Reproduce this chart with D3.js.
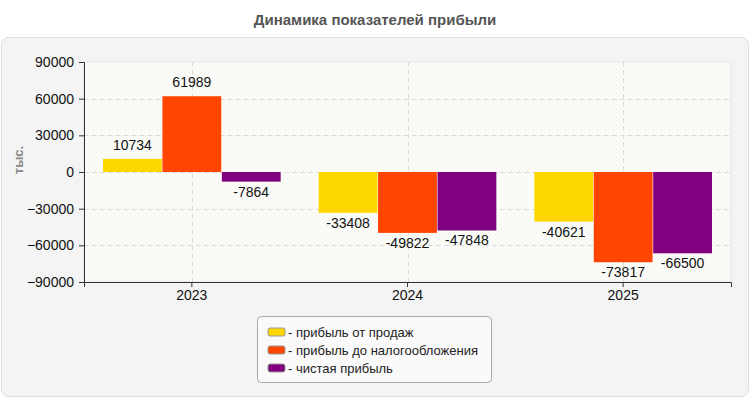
<!DOCTYPE html>
<html lang="ru">
<head>
    <meta charset="UTF-8">
    <title>Динамика показателей прибыли</title>
    <script src="https://d3js.org/d3.v7.min.js"></script>
    <style>
        body { margin: 0; background: #fff; font-family: "Liberation Sans", Arial, sans-serif; }
    </style>
</head>
<body>
<div id="chart"></div>
<script>
    // data
    var years = ["2023", "2024", "2025"];
    var seriesNames = ["прибыль от продаж", "прибыль до налогообложения", "чистая прибыль"];
    var salesProfit = [10734, -33408, -40621];
    var preTaxProfit = [61989, -49822, -73817];
    var netProfit = [-7864, -47848, -66500];
    var yTicks = [-90000, -60000, -30000, 0, 30000, 60000, 90000];
    var colors = ["#FFD700", "#FF4500", "#800080"];

    var seriesValues = [salesProfit, preTaxProfit, netProfit];

    var W = 750, H = 400;
    var svg = d3.select("#chart").append("svg")
        .attr("width", W)
        .attr("height", H);

    // hatch pattern for plot area
    var defs = svg.append("defs");
    var pat = defs.append("pattern")
        .attr("id", "hatch")
        .attr("patternUnits", "userSpaceOnUse")
        .attr("width", 4).attr("height", 4);
    pat.append("rect").attr("width", 4).attr("height", 4).attr("fill", "#fdfdf9");
    pat.append("path")
        .attr("d", "M-1,1 l2,-2 M0,4 l4,-4 M3,5 l2,-2")
        .attr("stroke", "#ececec")
        .attr("stroke-width", 0.7);

    // title
    svg.append("text")
        .attr("x", W / 2)
        .attr("y", 25)
        .attr("text-anchor", "middle")
        .style("font-size", "15px")
        .style("font-weight", "bold")
        .attr("fill", "#555")
        .text("Динамика показателей прибыли");

    // outer panel
    svg.append("rect")
        .attr("x", 1.5).attr("y", 37.5)
        .attr("width", 747).attr("height", 359)
        .attr("rx", 7)
        .attr("fill", "#f4f4f4")
        .attr("stroke", "#dedede");

    var margin = { left: 84, top: 62, right: 19, bottom: 118 };
    var width = W - margin.left - margin.right;
    var height = H - margin.top - margin.bottom;

    var g = svg.append("g")
        .attr("transform", "translate(" + margin.left + "," + margin.top + ")");

    var x = d3.scaleBand().domain(years).range([0, width]);
    var x1 = d3.scaleBand().domain(seriesNames).range([19, x.bandwidth() - 19]).paddingInner(0.01);
    var y = d3.scaleLinear().domain([-90000, 90000]).range([height, 0]);

    g.append("rect")
        .attr("width", width).attr("height", height)
        .attr("fill", "url(#hatch)")
        .attr("stroke", "#e2e2e2");

    // grid
    g.selectAll(".hgrid")
        .data(yTicks.filter(function(d) { return d > -90000 && d < 90000; }))
        .enter().append("line")
        .attr("x1", 0).attr("x2", width)
        .attr("y1", function(d) { return Math.round(y(d)) + 0.5; })
        .attr("y2", function(d) { return Math.round(y(d)) + 0.5; })
        .attr("stroke", "#dcdcdc")
        .attr("stroke-dasharray", "5,3");

    g.selectAll(".vgrid")
        .data(years)
        .enter().append("line")
        .attr("x1", function(d) { return Math.round(x(d) + x.bandwidth() / 2) + 0.5; })
        .attr("x2", function(d) { return Math.round(x(d) + x.bandwidth() / 2) + 0.5; })
        .attr("y1", 0).attr("y2", height)
        .attr("stroke", "#dcdcdc")
        .attr("stroke-dasharray", "5,3");

    // bars
    var bars = [];
    years.forEach(function(yr, i) {
        seriesNames.forEach(function(s, j) {
            bars.push({ year: yr, series: s, value: seriesValues[j][i], color: colors[j] });
        });
    });

    g.selectAll(".bar")
        .data(bars)
        .enter().append("rect")
        .attr("class", "bar")
        .attr("x", function(d) { return x(d.year) + x1(d.series); })
        .attr("width", x1.bandwidth())
        .attr("y", function(d) { return y(Math.max(0, d.value)); })
        .attr("height", function(d) { return Math.abs(y(d.value) - y(0)); })
        .attr("fill", function(d) { return d.color; });

    g.selectAll(".lbl")
        .data(bars)
        .enter().append("text")
        .attr("x", function(d) { return x(d.year) + x1(d.series) + x1.bandwidth() / 2; })
        .attr("y", function(d) { return d.value >= 0 ? y(d.value) - 9 : y(d.value) + 15; })
        .attr("text-anchor", "middle")
        .style("font-size", "14px")
        .attr("fill", "#111")
        .text(function(d) { return d.value; });

    // axes
    var yAxis = g.append("g")
        .call(d3.axisLeft(y).tickValues(yTicks).tickSize(5).tickFormat(d3.format("d")));
    yAxis.selectAll("text").style("font-size", "14px").attr("fill", "#111").attr("dx", "-2");
    yAxis.select(".domain").attr("stroke", "#333");
    yAxis.selectAll(".tick line").attr("stroke", "#333");

    var xAxis = g.append("g")
        .attr("transform", "translate(0," + height + ")")
        .call(d3.axisBottom(x).tickSize(5));
    xAxis.selectAll("text").style("font-size", "14px").attr("fill", "#111");
    xAxis.select(".domain").attr("stroke", "#333");
    xAxis.selectAll(".tick line").attr("stroke", "#333");

    // y title
    svg.append("text")
        .attr("transform", "translate(23,160) rotate(-90)")
        .attr("text-anchor", "middle")
        .style("font-size", "13px")
        .style("font-weight", "bold")
        .attr("fill", "#888")
        .text("тыс.");

    // legend
    var lg = svg.append("g").attr("transform", "translate(257,316)");
    lg.append("rect")
        .attr("x", 0.5).attr("y", 0.5)
        .attr("width", 234).attr("height", 66)
        .attr("rx", 4)
        .attr("fill", "#fafafa")
        .attr("stroke", "#aaa");
    var item = lg.selectAll(".item")
        .data(seriesNames)
        .enter().append("g")
        .attr("transform", function(d, i) { return "translate(11," + (12 + i * 18) + ")"; });
    item.append("rect")
        .attr("width", 17).attr("height", 8)
        .attr("rx", 2)
        .attr("fill", function(d, i) { return colors[i]; })
        .attr("stroke", "#999");
    item.append("text")
        .attr("x", 20).attr("y", 9)
        .style("font-size", "13px")
        .attr("fill", "#222")
        .text(function(d) { return "- " + d; });
</script>
</body>
</html>
